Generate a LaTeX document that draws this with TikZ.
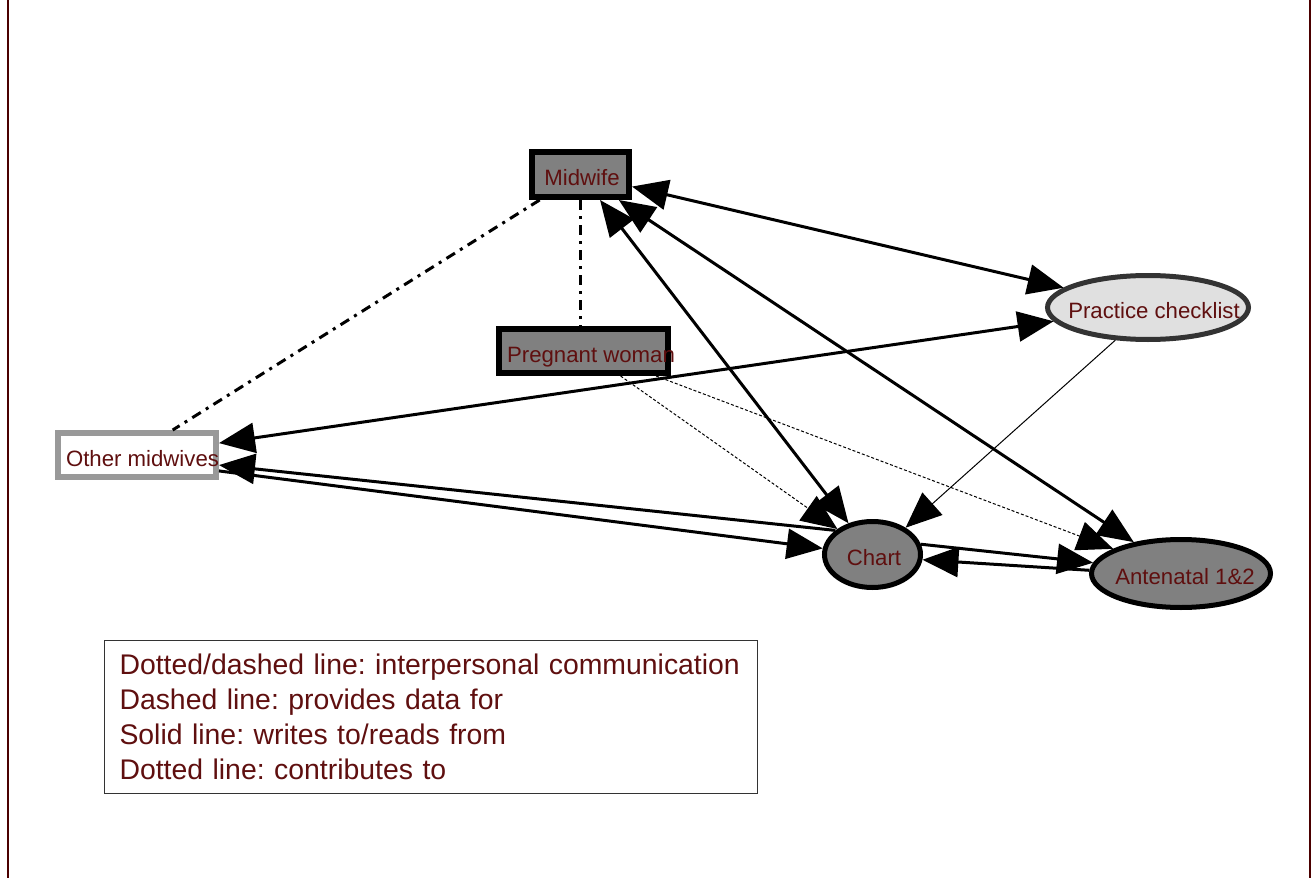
\documentclass[tikz,border=0pt]{standalone}
\usepackage{fontspec}
\setmainfont{Liberation Sans}
\usetikzlibrary{shapes.geometric,arrows.meta}
\definecolor{txtred}{RGB}{95,15,15}
\definecolor{framered}{RGB}{75,0,0}
\newcommand{\nodetxt}[2][0pt]{\makebox[0pt]{\hspace*{#1}\raisebox{-5.5pt}[0pt][0pt]{#2}}}

\begin{document}
\frenchspacing
\begin{tikzpicture}[x=0.5pt, y=-0.5pt,
  every node/.style = {text=txtred, inner sep=0pt,
    font=\fontsize{11.1}{13}\selectfont},
  actor/.style = {shape=rectangle, draw, line width=3pt, fill=gray},
  artefact/.style = {shape=ellipse, draw, line width=2.5pt, fill=gray},
  link/.style = {line width=1.5pt, -{Triangle[length=18pt,width=15pt]}},
  both/.style = {line width=1.5pt,
    {Triangle[length=18pt,width=15pt]}-{Triangle[length=18pt,width=15pt]}},
  thinlink/.style = {line width=0.5pt, -{Triangle[length=18pt,width=15pt]}},
  dotlink/.style = {line width=0.5pt, dash pattern=on 1.5pt off 1pt,
    -{Triangle[length=18pt,width=15pt]}},
  talk/.style = {line width=1.5pt,
    dash pattern=on 5pt off 3pt on 1.5pt off 3pt}
  ]
  \useasboundingbox (0,0) rectangle (1314,878);
  \draw[framered, line width=1pt] (7.5,0) -- (7.5,878);
  \draw[framered, line width=1pt] (1309.5,0) -- (1309.5,878);

  \node[actor, minimum width=48.5pt, minimum height=22.5pt]
    (mw) at (580.5,174.5) {\nodetxt[1.5pt]{Midwife}};
  \node[actor, minimum width=84.5pt, minimum height=22pt]
    (pw) at (583.5,351) {\nodetxt[7.5pt]{Pregnant woman}};
  \node[actor, draw=black!40, fill=white, minimum width=79pt, minimum height=22pt]
    (om) at (137,455) {\nodetxt[5.5pt]{Other midwives}};
  \node[artefact, draw=black!80, fill=black!12, minimum width=100.5pt, minimum height=32pt]
    (pc) at (1148,307.5) {\nodetxt[6pt]{Practice checklist}};
  \node[artefact, minimum width=48pt, minimum height=33pt]
    (ch) at (872.5,554.5) {\nodetxt[1.5pt]{Chart}};
  \node[artefact, minimum width=89.5pt, minimum height=34pt]
    (an) at (1181,573.5) {\nodetxt[4pt]{Antenatal 1\&2}};

  \draw[both] (mw) -- (pc);
  \draw[both] (mw) -- (ch);
  \draw[both] (mw) -- (an);
  \draw[both] (pc) -- (om);
  \draw[link] (ch.147) -- (om.-7);
  \draw[link] (om.-11) -- (ch.173);
  \draw[link] (ch.12) -- (an.173);
  \draw[link] (an.178) -- (ch.-6);
  \draw[thinlink] (pc.225) -- (ch.39);
  \draw[dotlink] (pw.-34) -- (ch.144);
  \draw[dotlink] (pw.-19) -- (an.160);
  \draw[talk] (mw.212) -- (om.35);
  \draw[talk] (mw.south) -- (mw.south |- pw.north);

  \node[draw=black!80, line width=0.5pt, anchor=north west, align=left,
    inner xsep=7.5pt, text width=311.5pt, minimum height=76.5pt,
    font=\fontsize{14.2}{17.5}\selectfont]
    (key) at (104,640) {Dotted/dashed line: interpersonal communication\\
    Dashed line: provides data for\\
    Solid line: writes to/reads from\\
    Dotted line: contributes to};
\end{tikzpicture}
\end{document}
